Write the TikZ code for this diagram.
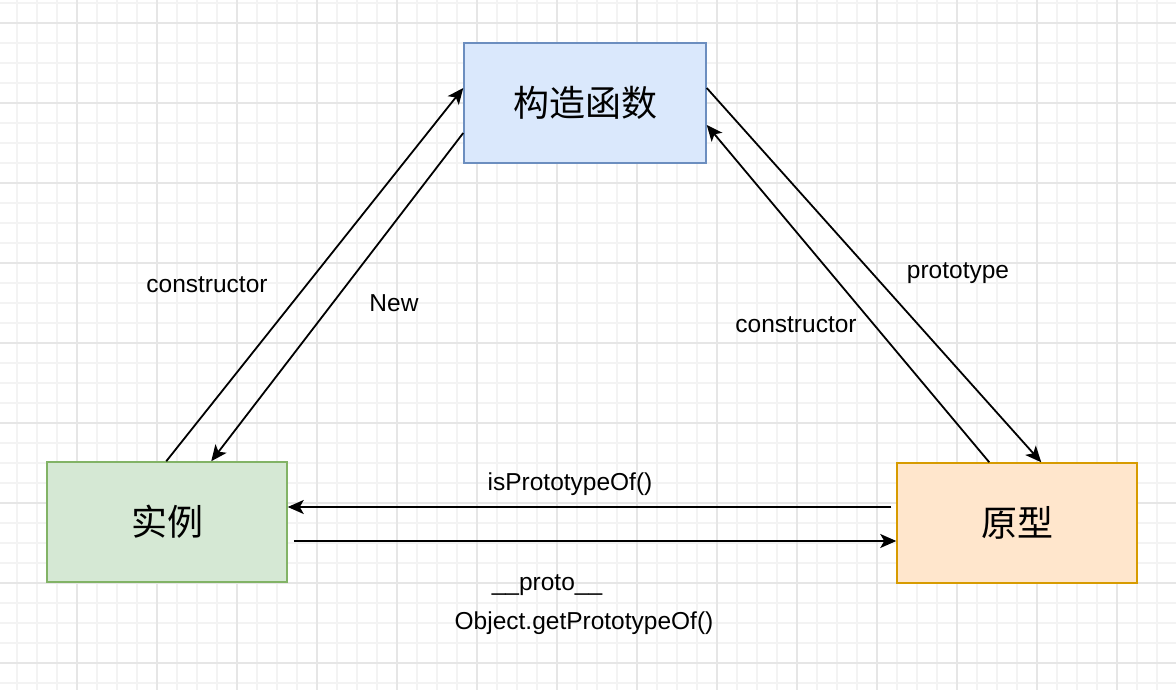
\documentclass[tikz,border=0pt]{standalone}
\usepackage{fontspec}
\setmainfont{Liberation Sans}
\newfontfamily\cjk{Noto Sans CJK SC}
\usepackage{tikz}
\usetikzlibrary{positioning,arrows.meta,calc}

\definecolor{minorline}{HTML}{F3F3F3}
\definecolor{majorline}{HTML}{E6E6E6}
\definecolor{bluefill}{HTML}{DAE8FC}
\definecolor{bluedraw}{HTML}{6C8EBF}
\definecolor{greenfill}{HTML}{D5E8D4}
\definecolor{greendraw}{HTML}{82B366}
\definecolor{orangefill}{HTML}{FFE6CC}
\definecolor{orangedraw}{HTML}{D79B00}

\tikzset{
  box/.style={rectangle, minimum width=240, minimum height=120, inner sep=0pt,
    line width=1.5pt, font=\cjk\fontsize{36}{42}\selectfont},
  lbl/.style={inner sep=0pt, font=\fontsize{24.5}{28}\selectfont},
  link/.style={line width=1.8pt, -{Stealth[length=16pt,width=14pt,inset=4pt]}},
}

\begin{document}
\begin{tikzpicture}[x=1pt,y=-1pt]

  \useasboundingbox (0,0) rectangle (1176,690);
  \fill[white] (0,0) rectangle (1176,690);

  % grid
  \foreach \gx in {17,37,...,1177} \draw[minorline, line width=1.5pt] (\gx,0) -- (\gx,690);
  \foreach \gy in {3,23,...,690} \draw[minorline, line width=1.5pt] (0,\gy) -- (1176,\gy);
  \foreach \gx in {77,157,...,1176} \draw[majorline, line width=1.5pt] (\gx,0) -- (\gx,690);
  \foreach \gy in {23,103,...,690} \draw[majorline, line width=1.5pt] (0,\gy) -- (1176,\gy);

  \node[box, fill=bluefill, draw=bluedraw, minimum width=242] (func) at (585,103) {构造函数};
  \node[box, fill=greenfill, draw=greendraw] (inst) at (167,522) {实例};
  \node[box, fill=orangefill, draw=orangedraw] (proto) at (1017,523) {原型};

  \draw[link] ($(inst.north west)+(120,0)$) -- ($(func.west)+(0,-15)$);
  \draw[link] ($(func.west)+(0,30)$) -- ($(inst.north west)+(165,0)$);
  \draw[link] ($(func.east)+(0,-15)$) -- ($(proto.north west)+(145,0)$);
  \draw[link] ($(proto.north west)+(93,0)$) -- ($(func.east)+(0,22)$);
  \draw[link] ($(proto.west)+(-5,-16)$) -- ($(inst.east)+(0,-15)$);
  \draw[link] ($(inst.east)+(6,19)$) -- ($(proto.west)+(0,18)$);

  \node[lbl] (ctorl) at (207,285) {constructor};
  \node[lbl] (newl) at (394,303) {New};
  \node[lbl] (protol) at (958,273) {prototype};
  \node[lbl] (ctorr) at (796,325) {constructor};
  \node[lbl] (isprl) at (570,484) {isPrototypeOf()};
  \node[lbl] (dunder) at (547,585) {\_\_proto\_\_};
  \node[lbl] (getpr) at (584,623) {Object.getPrototypeOf()};

\end{tikzpicture}
\end{document}
